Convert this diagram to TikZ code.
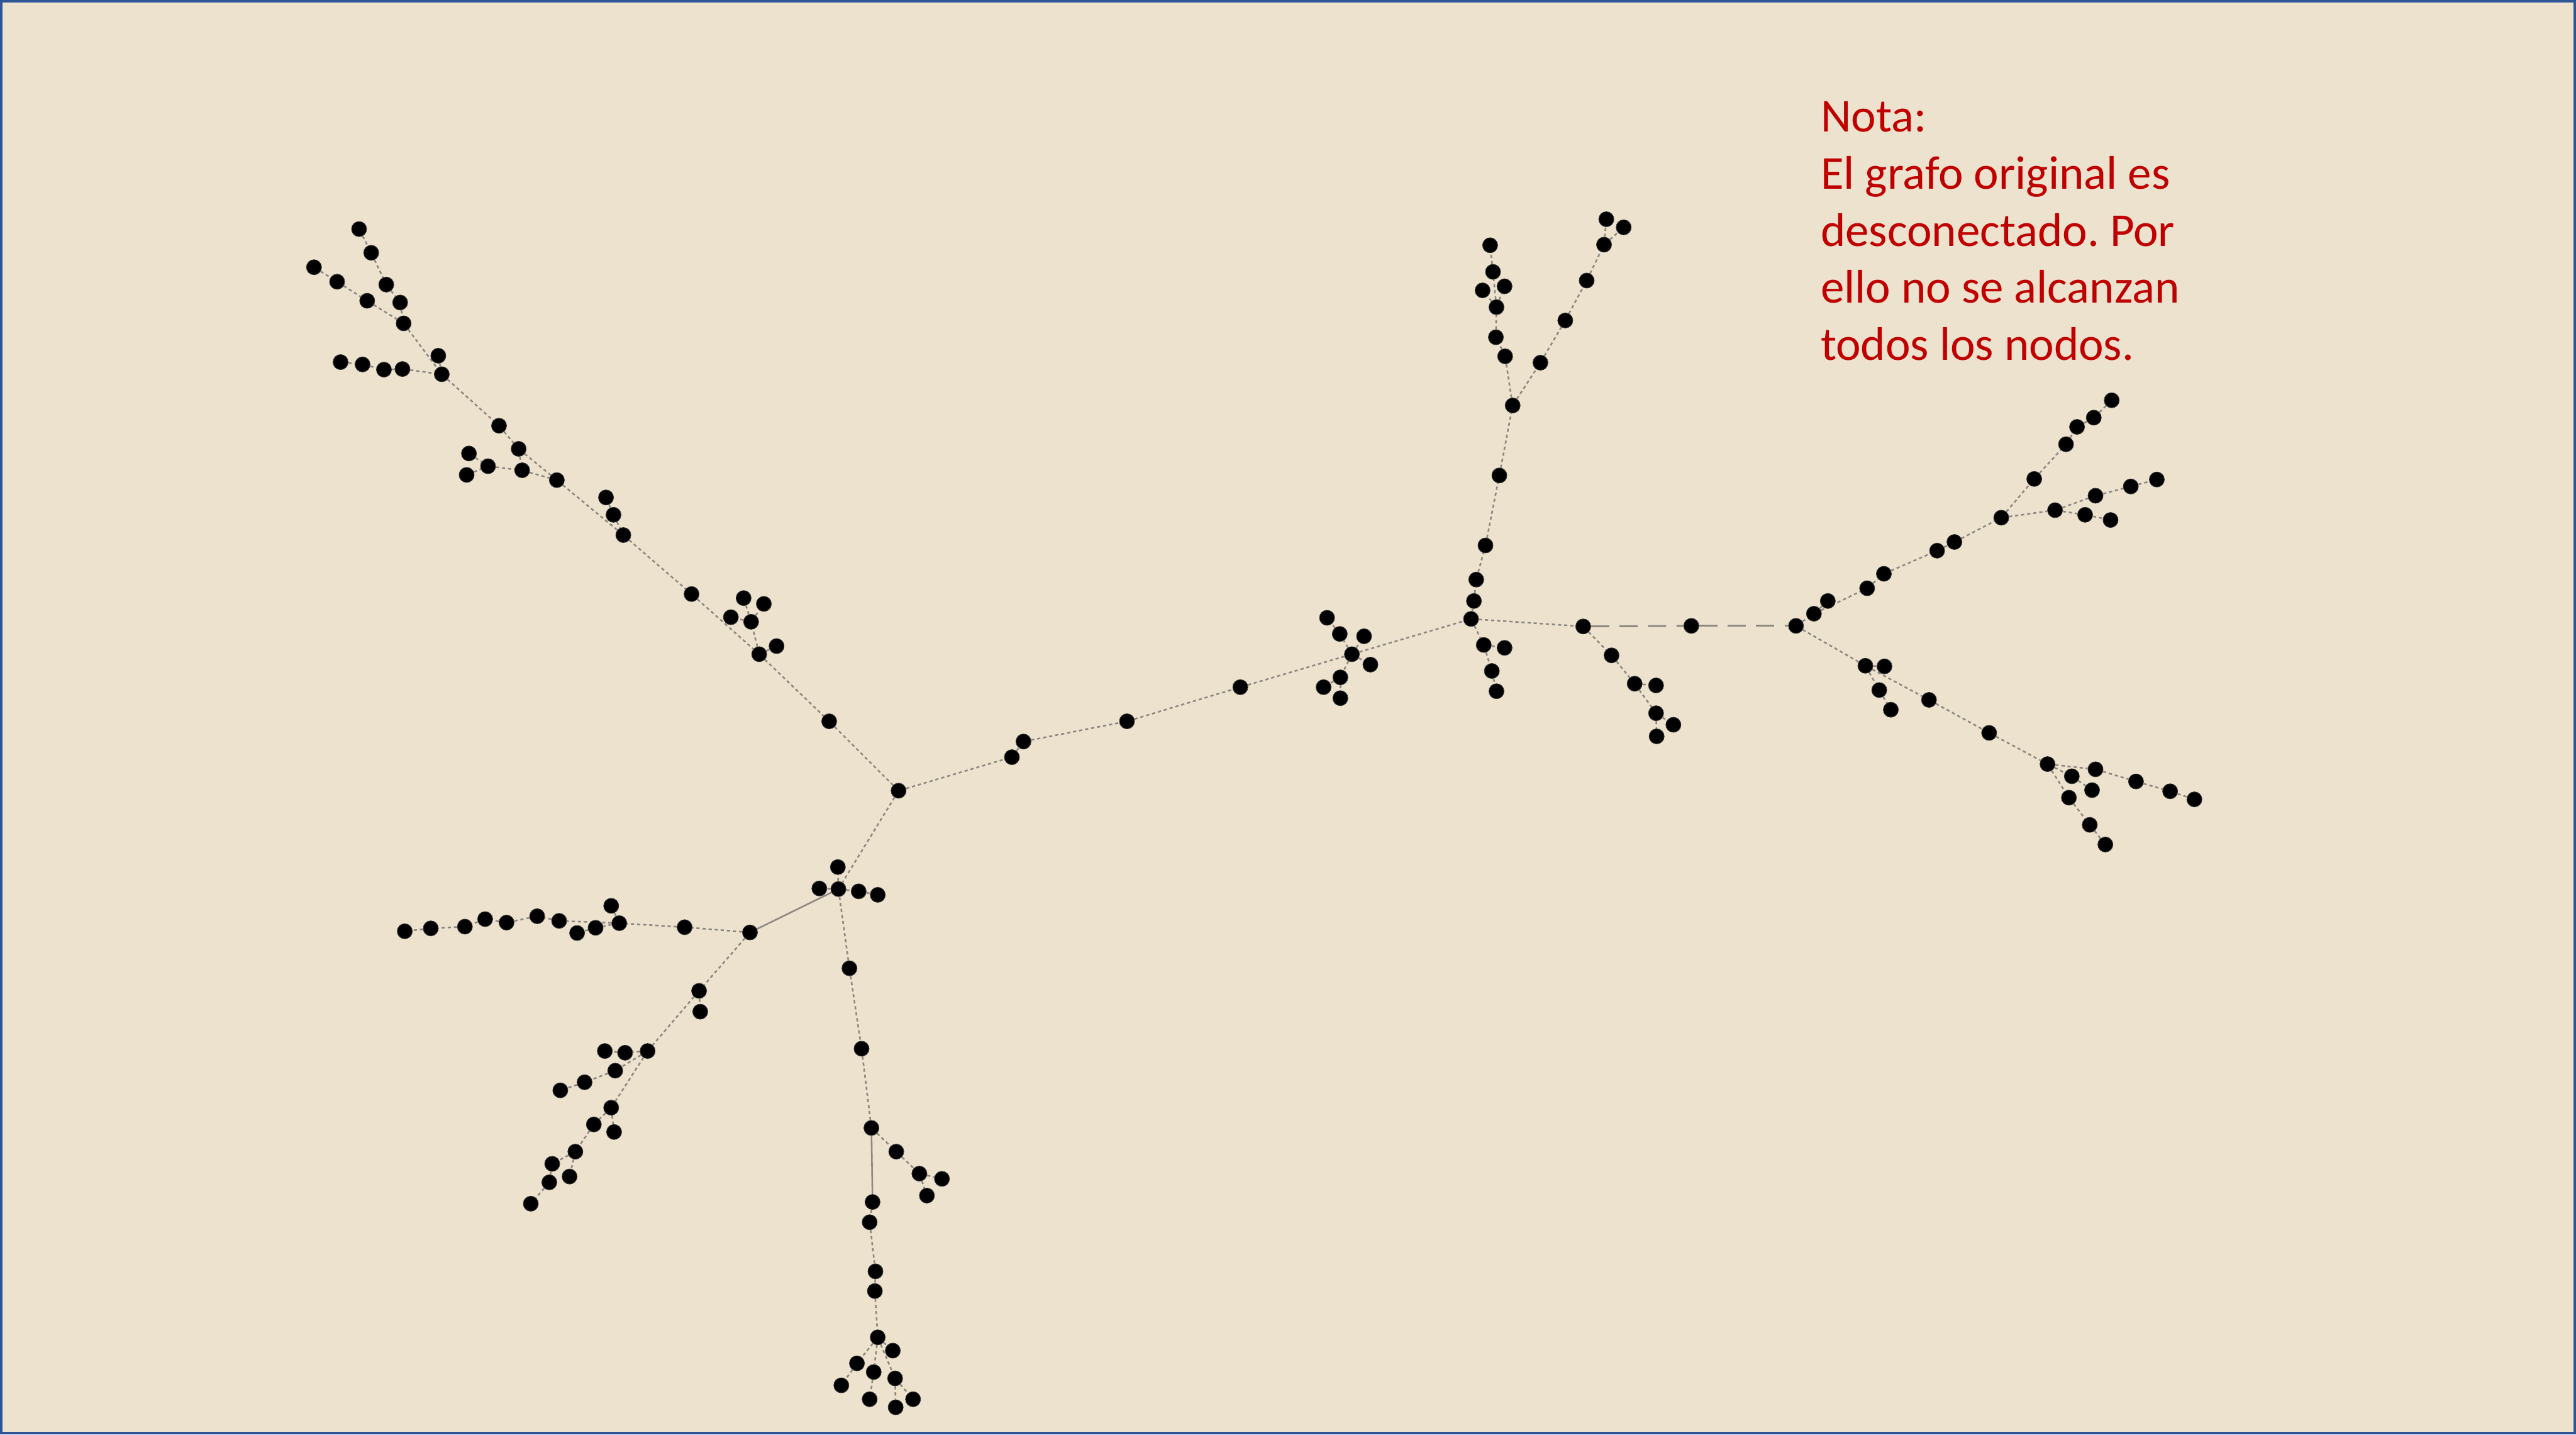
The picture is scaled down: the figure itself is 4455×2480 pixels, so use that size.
\documentclass[tikz,border=0pt]{standalone}
\usepackage{fontspec}
\newfontfamily\notafont{Carlito}
\usepackage{tikz}
\usetikzlibrary{backgrounds}
\definecolor{gbeige}{HTML}{EDE2CE}
\definecolor{gframe}{HTML}{2F5597}
\definecolor{gedge}{HTML}{8E8A82}
\definecolor{gnota}{HTML}{C00000}
\tikzset{
  vtx/.style={circle, fill=black, draw=black!80, line width=0.3pt,
              minimum size=0.26cm, inner sep=0pt},
  lnk/.style={gedge, line width=0.8pt, dash pattern=on 1.6pt off 1.4pt},
  lnkfull/.style={gedge, line width=0.8pt},
  lnklong/.style={gedge, line width=0.9pt, dash pattern=on 9pt off 5pt},
  notetxt/.style={text=gnota, align=left, inner sep=0pt,
                  font=\notafont\frenchspacing\fontsize{23.2}{28.1}\selectfont},
}

\begin{document}
\begin{tikzpicture}[x=0.01cm, y=-0.01cm]
  \useasboundingbox (0,0) rectangle (4455,2480);

  %% Upper-left branch
  \foreach \n/\x/\y in {u1/621/396, u2/642/437, u3/668/492, u4/692/523,
      u5/543/462, u6/583/487, u7/635/520, u8/698/559, u9/758/615,
      u10/764/647, u11/589/626, u12/627/630, u13/664/639, u14/696/638,
      u15/863/736, u16/897/776, u17/811/784, u18/844/806, u19/903/813,
      u20/807/821, u21/963/830, u22/1048/860, u23/1061/890, u24/1078/925,
      u25/1196/1027, u26/1286/1034, u27/1321/1044, u28/1264/1067,
      u29/1299/1075, u30/1343/1117, u31/1313/1131, u32/1434/1247}
    \node[vtx] (\n) at (\x,\y) {};

  %% Centre and lower-left
  \foreach \n/\x/\y in {c1/1554/1367, c2/1750/1309, c3/1770/1282,
      c4/1949/1247, c5/2145/1188, c6/1449/1499, c7/1417/1536,
      c8/1450/1537, c9/1485/1541, c10/1518/1547,
      l1/1297/1612, l2/1184/1603, l3/1071/1596, l4/1057/1566,
      l5/1030/1604, l6/998/1613, l7/967/1592, l8/929/1584, l9/876/1595,
      l10/839/1589, l11/804/1602, l12/745/1605, l13/700/1610,
      b1/1209/1713, b2/1211/1749, b3/1120/1817, b4/1081/1820,
      b5/1046/1817, b6/1064/1851, b7/1011/1871, b8/969/1885,
      b9/1057/1915, b10/1027/1944, b11/1062/1957, b12/995/1991,
      b13/955/2012, b14/985/2034, b15/950/2044, b16/918/2081}
    \node[vtx] (\n) at (\x,\y) {};

  %% Bottom column
  \foreach \n/\x/\y in {d1/1469/1674, d2/1490/1813, d3/1507/1950,
      d4/1550/1991, d5/1590/2029, d6/1629/2038, d7/1603/2067,
      d8/1509/2078, d9/1504/2113, d10/1514/2198, d11/1513/2232,
      d12/1518/2312, d13/1544/2335, d14/1482/2357, d15/1511/2372,
      d16/1548/2383, d17/1455/2395, d18/1504/2419, d19/1579/2419,
      d20/1549/2433}
    \node[vtx] (\n) at (\x,\y) {};

  %% Middle cluster and upper branch
  \foreach \n/\x/\y in {k1/2338/1131, k2/2317/1096, k3/2295/1068,
      k4/2359/1100, k5/2370/1149, k6/2318/1171, k7/2289/1188,
      k8/2318/1207,
      t0/2544/1070, t1/2549/1039, t2/2553/1002, t3/2569/943,
      t4/2593/822, t5/2616/701, t6/2603/616, t7/2587/583, t8/2588/531,
      t9/2564/502, t10/2602/495, t11/2582/470, t12/2577/424,
      t13/2664/627, t14/2707/554, t15/2744/485, t16/2774/423,
      t17/2778/379, t18/2808/393, t19/2566/1115, t20/2602/1120,
      t21/2580/1160, t22/2588/1195,
      m1/2738/1083, m2/2787/1133, m3/2827/1182, m4/2864/1185,
      m5/2864/1233, m6/2894/1253, m7/2865/1273, m8/2925/1082}
    \node[vtx] (\n) at (\x,\y) {};

  %% Right branches
  \foreach \n/\x/\y in {r0/3106/1082, r1/3137/1061, r2/3161/1039,
      r3/3229/1017, r4/3258/992, r5/3350/952, r6/3380/937, r7/3461/895,
      r8/3518/828, r9/3573/768, r10/3592/738, r11/3621/722,
      r12/3652/692, r13/3554/882, r14/3606/890, r15/3650/899,
      r16/3624/857, r17/3685/841, r18/3730/829,
      r19/3226/1151, r20/3259/1152, r21/3250/1193, r22/3270/1227,
      r23/3336/1210, r24/3440/1267, r25/3541/1321, r26/3624/1330,
      r27/3694/1351, r28/3753/1368, r29/3795/1382, r30/3583/1342,
      r31/3618/1366, r32/3578/1379, r33/3614/1426, r34/3641/1460}
    \node[vtx] (\n) at (\x,\y) {};

  %% Note (base = last line)
  \node[notetxt, anchor=base west] (nota) at (3148,623)
    {Nota:\\El grafo original es\\desconectado. Por\\ello no se alcanzan\\todos los nodos.};

  \begin{scope}[on background layer]
    \fill[gbeige] (0,0) rectangle (4455,2480);
    \draw[gframe, line width=1.2pt] (2,2) rectangle (4453,2478);

    %% edges
    \foreach \a/\b in {u1/u2, u2/u3, u3/u4, u4/u8, u5/u6, u6/u7, u7/u8,
        u8/u10, u9/u10, u11/u12, u12/u13, u13/u14, u14/u10, u10/u15,
        u15/u16, u16/u21, u16/u19, u19/u21, u18/u19, u17/u18, u20/u18,
        u21/u24, u22/u23, u23/u24, u24/u25, u25/u31, u31/u30, u31/u29,
        u29/u28, u29/u26, u29/u27, u31/u32, u32/c1,
        c1/c2, c2/c3, c3/c4, c4/c5, c5/k1, c1/c8, c8/c6, c8/c7, c8/c9,
        c9/c10, l1/l2, l2/l3, l3/l4, l3/l5, l5/l6, l3/l7, l7/l8, l8/l9,
        l9/l10, l10/l11, l11/l12, l12/l13,
        l1/b1, b1/b2, b1/b3, b3/b4, b4/b5, b3/b6, b6/b7, b7/b8, b3/b9,
        b9/b10, b9/b11, b10/b12, b12/b13, b12/b14, b13/b15, b15/b16,
        c8/d1, d1/d2, d2/d3, d3/d4, d4/d5, d5/d6, d5/d7, d8/d9, d9/d10,
        d10/d11, d11/d12, d12/d13, d12/d14, d14/d17, d12/d15, d15/d18,
        d12/d16, d16/d19, d16/d20,
        k1/k2, k2/k3, k1/k4, k1/k5, k1/k6, k6/k7, k6/k8, k1/t0,
        t0/t1, t1/t2, t2/t3, t3/t4, t4/t5, t5/t6, t6/t7, t7/t8, t8/t9,
        t8/t10, t8/t11, t11/t12, t5/t13, t13/t14, t14/t15, t15/t16,
        t16/t17, t16/t18, t0/t19, t19/t20, t19/t21, t21/t22,
        t0/m1, m1/m2, m2/m3, m3/m4, m3/m5, m5/m6, m5/m7,
        r0/r1, r1/r2, r1/r3, r3/r4, r4/r5, r5/r6, r6/r7, r7/r8, r8/r9,
        r9/r10, r10/r11, r11/r12, r7/r13, r13/r14, r14/r15, r13/r16,
        r16/r17, r17/r18, r0/r19, r19/r20, r19/r21, r21/r22, r19/r23,
        r23/r24, r24/r25, r25/r26, r26/r27, r27/r28, r28/r29, r25/r30,
        r30/r31, r25/r32, r32/r33, r33/r34}
      \draw[lnk] (\a) -- (\b);

    \draw[lnkfull] (c8) -- (l1);
    \draw[lnkfull] (d3) -- (d8);
    \draw[lnklong] (m1) -- (m8);
    \draw[lnklong] (m8) -- (r0);
  \end{scope}
\end{tikzpicture}
\end{document}
